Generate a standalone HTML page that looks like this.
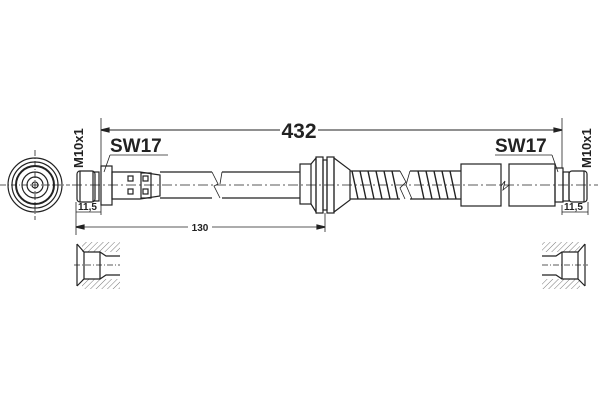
<!DOCTYPE html>
<html><head><style>body{margin:0;background:#fff}svg{display:block}</style></head><body>
<svg width="600" height="400" viewBox="0 0 600 400" xmlns="http://www.w3.org/2000/svg" font-family="Liberation Sans, sans-serif" stroke="#222" fill="none" stroke-width="1.2">
<defs>
<pattern id="h" width="4" height="4" patternUnits="userSpaceOnUse" patternTransform="rotate(45)"><line x1="0" y1="0" x2="0" y2="4" stroke="#555" stroke-width="0.8"/></pattern>
</defs>
<circle cx="35" cy="185" r="27"/><circle cx="35" cy="185" r="23"/><circle cx="35" cy="185" r="19" stroke-width="2"/><circle cx="35" cy="185" r="13"/><circle cx="35" cy="185" r="8"/><circle cx="35" cy="185" r="3"/>
<line x1="35" y1="150" x2="35" y2="220" stroke-dasharray="6,2,1,2" stroke-width="0.8"/>
<line x1="0" y1="185" x2="70" y2="185" stroke-dasharray="6,2,1,2" stroke-width="0.8"/>
<line x1="72" y1="185" x2="598" y2="185" stroke-dasharray="10,3,2,3" stroke-width="0.8"/>
<line x1="101" y1="118" x2="101" y2="168" stroke-width="0.8"/>
<line x1="562" y1="118" x2="562" y2="168" stroke-width="0.8"/>
<line x1="101" y1="130" x2="280" y2="130" stroke-width="0.9"/>
<line x1="318" y1="130" x2="562" y2="130" stroke-width="0.9"/>
<polygon points="101,130 109,128 109,132" fill="#222"/><polygon points="562,130 554,128 554,132" fill="#222"/>
<text x="299" y="138" font-size="21" font-weight="bold" text-anchor="middle" fill="#222" stroke="none">432</text>
<text x="110" y="152" font-size="19" font-weight="bold" fill="#222" stroke="none">SW17</text>
<line x1="110" y1="155" x2="168" y2="155" stroke-width="0.8"/><line x1="110" y1="155" x2="104" y2="172" stroke-width="0.8"/>
<text x="495" y="152" font-size="19" font-weight="bold" fill="#222" stroke="none">SW17</text>
<line x1="495" y1="155" x2="552" y2="155" stroke-width="0.8"/><line x1="552" y1="155" x2="558" y2="172" stroke-width="0.8"/>
<text transform="translate(83,168) rotate(-90)" font-size="13" font-weight="bold" fill="#222" stroke="none">M10x1</text>
<text transform="translate(591,168) rotate(-90)" font-size="13" font-weight="bold" fill="#222" stroke="none">M10x1</text>
<rect x="77" y="171" width="18" height="31" rx="3"/>
<line x1="80" y1="171" x2="80" y2="202"/>
<rect x="93" y="172" width="6" height="29"/>
<rect x="101" y="166" width="11" height="39"/>
<path d="M112 172 H140 L160 175 V196 L140 199 H112 Z"/>
<rect x="128" y="176" width="5" height="5"/><rect x="128" y="189" width="5" height="5"/>
<rect x="141" y="173" width="10" height="25"/>
<rect x="143" y="176" width="5" height="5"/><rect x="143" y="189" width="5" height="5"/>
<line x1="160" y1="172" x2="212" y2="172"/><line x1="160" y1="198" x2="212" y2="198"/>
<line x1="222" y1="172" x2="300" y2="172"/><line x1="222" y1="198" x2="300" y2="198"/>
<path d="M212 172 L218 184 L214 186 L220 198" stroke-width="0.8"/>
<path d="M222 172 L220 184" stroke-width="0.8"/>
<rect x="300" y="164" width="11" height="40"/>
<path d="M311 164 L316 158 V212 L311 204"/>
<rect x="316" y="157" width="7" height="56"/>
<rect x="323" y="160" width="4" height="50"/>
<rect x="327" y="157" width="7" height="56"/>
<path d="M334 158 L350 170 V200 L334 212 Z"/>
<line x1="325" y1="213" x2="325" y2="232" stroke-width="0.8"/>
<line x1="350" y1="171" x2="400" y2="171"/><line x1="350" y1="199" x2="400" y2="199"/>
<g stroke-width="1.4">
<path d="M352 171 L358 199 M360 171 L366 199 M368 171 L374 199 M376 171 L382 199 M384 171 L390 199 M392 171 L398 199"/>
</g>
<path d="M400 171 L406 182 L400 188 L405 199" stroke-width="0.8"/>
<line x1="410" y1="171" x2="461" y2="171"/><line x1="410" y1="199" x2="461" y2="199"/>
<path d="M410 171 L406 185 L412 199" stroke-width="0.8"/>
<g stroke-width="1.4"><path d="M418 171 L424 199 M426 171 L432 199 M434 171 L440 199 M442 171 L448 199 M450 171 L456 199"/></g>
<rect x="461" y="164" width="40" height="42"/>
<rect x="509" y="164" width="46" height="42"/>
<path d="M501 186 L505 181 L503 190 L509 185" stroke-width="0.8"/>
<rect x="555" y="168" width="8" height="34"/>
<rect x="563" y="172" width="6" height="29"/>
<rect x="569" y="171" width="18" height="31" rx="3"/>
<line x1="584" y1="171" x2="584" y2="202"/>
<line x1="76" y1="202" x2="76" y2="235" stroke-width="0.8"/>
<line x1="101" y1="205" x2="101" y2="215" stroke-width="0.8"/>
<line x1="76" y1="212" x2="101" y2="212" stroke-width="0.8"/>
<text x="78" y="210" font-size="10" font-weight="bold" fill="#222" stroke="none">11,5</text>
<line x1="562" y1="205" x2="562" y2="215" stroke-width="0.8"/>
<line x1="588" y1="202" x2="588" y2="215" stroke-width="0.8"/>
<line x1="562" y1="212" x2="588" y2="212" stroke-width="0.8"/>
<text x="564" y="210" font-size="10" font-weight="bold" fill="#222" stroke="none">11,5</text>
<line x1="76" y1="227" x2="188" y2="227" stroke-width="0.8"/>
<line x1="212" y1="227" x2="325" y2="227" stroke-width="0.8"/>
<polygon points="76,227 84,225 84,229" fill="#222"/><polygon points="325,227 317,225 317,229" fill="#222"/>
<text x="200" y="231" font-size="10" font-weight="bold" text-anchor="middle" fill="#222" stroke="none">130</text>
<!-- left section -->
<rect x="82" y="242" width="38" height="10" fill="url(#h)" stroke="none"/>
<rect x="82" y="279" width="38" height="10" fill="url(#h)" stroke="none"/>
<path d="M77 244 V286"/>
<path d="M77 244 L84 252 H100 L106 256 H120"/>
<path d="M77 286 L84 279 H100 L106 275 H120"/>
<path d="M84 252 V279 M100 252 V279"/>
<line x1="74" y1="265" x2="120" y2="265" stroke-dasharray="6,2,1,2" stroke-width="0.8"/>
<!-- right section -->
<rect x="542" y="242" width="38" height="10" fill="url(#h)" stroke="none"/>
<rect x="542" y="279" width="38" height="10" fill="url(#h)" stroke="none"/>
<path d="M585 244 V286"/>
<path d="M585 244 L578 252 H562 L556 256 H542"/>
<path d="M585 286 L578 279 H562 L556 275 H542"/>
<path d="M578 252 V279 M562 252 V279"/>
<line x1="542" y1="265" x2="588" y2="265" stroke-dasharray="6,2,1,2" stroke-width="0.8"/>
</svg>
</body></html>
